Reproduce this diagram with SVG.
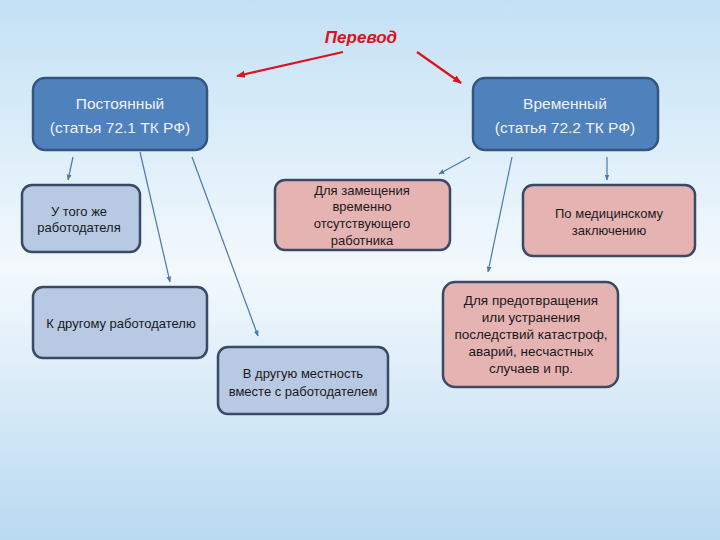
<svg xmlns="http://www.w3.org/2000/svg" width="720" height="540" viewBox="0 0 720 540">
<defs>
<linearGradient id="bg" x1="0" y1="0" x2="0" y2="1">
<stop offset="0" stop-color="#c3e1f5"/>
<stop offset="0.5" stop-color="#f3f9fd"/>
<stop offset="1" stop-color="#b9daf1"/>
</linearGradient>
<marker id="ab" viewBox="0 0 10 10" refX="9" refY="5" markerWidth="5" markerHeight="5" orient="auto"><path d="M0,1 L10,5 L0,9 Z" fill="#4a78b0"/></marker>
<marker id="ar" viewBox="0 0 10 10" refX="9" refY="5" markerWidth="4" markerHeight="4" orient="auto"><path d="M0,1 L10,5 L0,9 Z" fill="#e01020"/></marker>
<style>
.dark rect{fill:#4f81bd;stroke:#34557e;stroke-width:2.5}
.blue rect{fill:#b8c9e3;stroke:#3a4a66;stroke-width:2.5}
.pink rect{fill:#e6b3b3;stroke:#3a4a66;stroke-width:2.5}
text{font-family:"Liberation Sans",Arial,sans-serif;text-anchor:middle}
.dark text{fill:#eef2fa;font-size:15.5px}
.blue text,.pink text{fill:#1a1a1a;font-size:13px}
#prevent text{font-size:13.5px}
.cb{stroke:#4a78b0;stroke-width:1.2;fill:none;marker-end:url(#ab)}
.cr{stroke:#e01020;stroke-width:2.2;fill:none;marker-end:url(#ar)}
</style>
</defs>
<rect width="720" height="540" fill="url(#bg)"/>
<text x="361" y="43" style="font-size:17px;font-weight:bold;font-style:italic;fill:#e01020">Перевод</text>
<g id="connectors">
<line class="cr" x1="343" y1="52" x2="237" y2="76"/>
<line class="cr" x1="417" y1="52" x2="461" y2="83"/>
<line class="cb" x1="73" y1="157" x2="68" y2="180"/>
<line class="cb" x1="140" y1="152" x2="170" y2="282"/>
<line class="cb" x1="192" y1="157" x2="258" y2="336"/>
<line class="cb" x1="470" y1="157" x2="439" y2="174"/>
<line class="cb" x1="607" y1="157" x2="607" y2="180"/>
<line class="cb" x1="512" y1="157" x2="488" y2="272"/>
</g>
<g id="permanent" class="dark"><rect x="33" y="78" width="174" height="72" rx="12"/><text x="120" y="109">Постоянный</text><text x="120" y="133">(статья 72.1 ТК РФ)</text></g>
<g id="temporary" class="dark"><rect x="473" y="78" width="185" height="72" rx="12"/><text x="565" y="109">Временный</text><text x="565" y="133">(статья 72.2 ТК РФ)</text></g>
<g id="same" class="blue"><rect x="22" y="185" width="118" height="67" rx="10"/><text x="79" y="216">У того же</text><text x="79" y="232">работодателя</text></g>
<g id="other" class="blue"><rect x="33" y="287" width="174" height="71" rx="10"/><text x="121" y="328">К другому работодателю</text></g>
<g id="locality" class="blue"><rect x="218" y="347" width="170" height="67" rx="10"/><text x="303" y="378">В другую местность</text><text x="303" y="396">вместе с работодателем</text></g>
<g id="replace" class="pink"><rect x="275" y="180" width="175" height="70" rx="10"/><text x="362" y="195">Для замещения</text><text x="362" y="211">временно</text><text x="362" y="228">отсутствующего</text><text x="362" y="245">работника</text></g>
<g id="medical" class="pink"><rect x="523" y="185" width="172" height="71" rx="10"/><text x="609" y="218">По медицинскому</text><text x="609" y="235">заключению</text></g>
<g id="prevent" class="pink"><rect x="443" y="282" width="175" height="105" rx="12"/><text x="531" y="305">Для предотвращения</text><text x="531" y="322">или устранения</text><text x="531" y="339">последствий катастроф,</text><text x="531" y="356">аварий, несчастных</text><text x="531" y="373">случаев и пр.</text></g>
</svg>
